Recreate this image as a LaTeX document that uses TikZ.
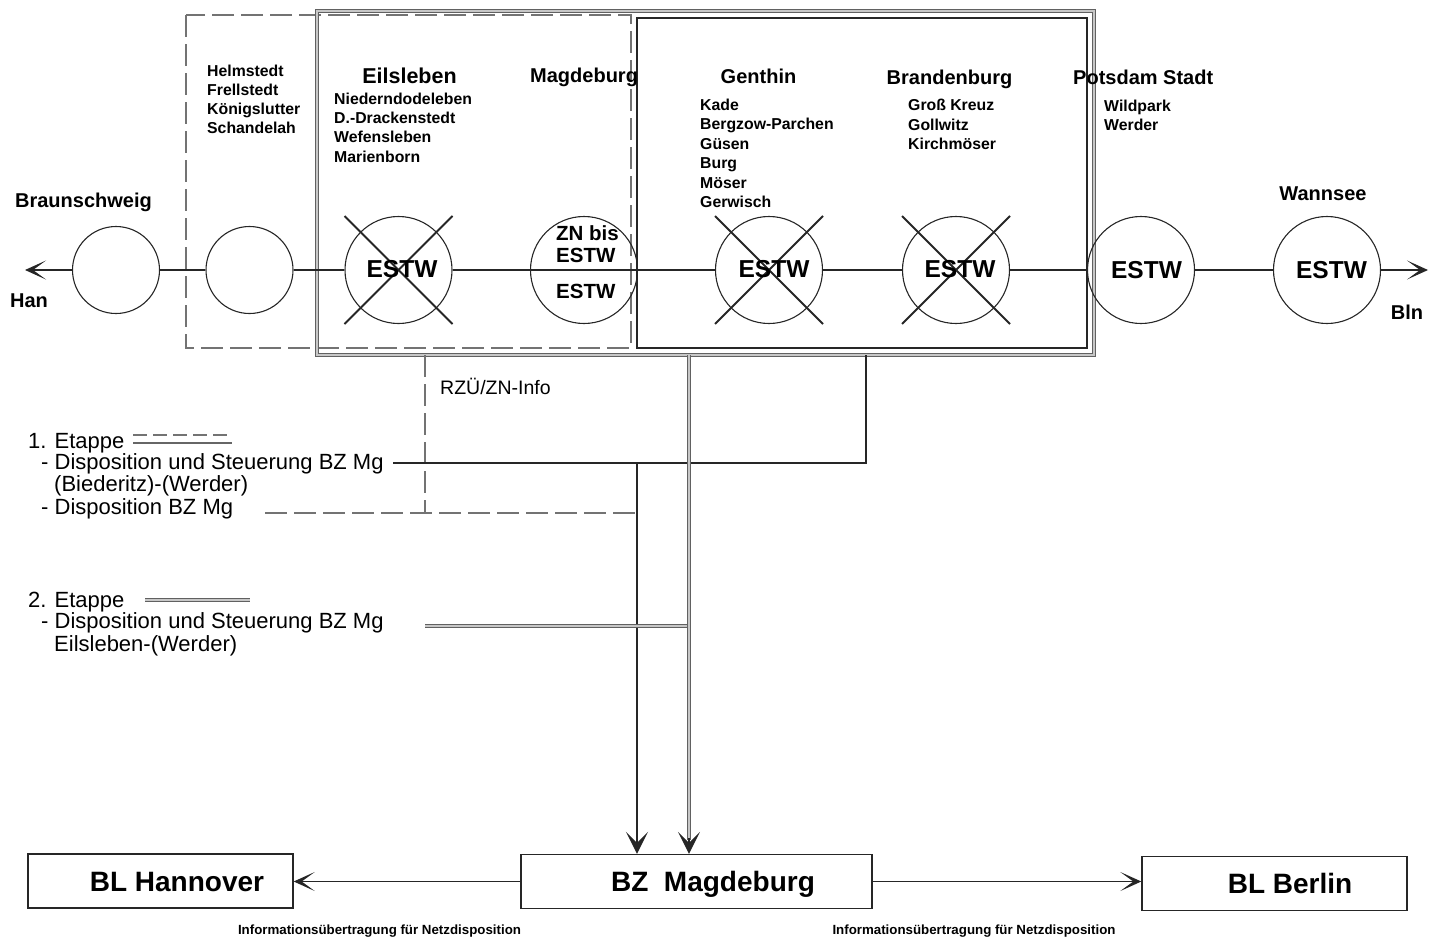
\documentclass[tikz,border=0pt]{standalone}
\usepackage{fontspec}
\setmainfont{Liberation Sans}
\usetikzlibrary{arrows.meta}
\definecolor{ink}{gray}{0.15}
\definecolor{lightcore}{gray}{0.78}
\tikzset{
  every node/.style={inner sep=0pt},
  stnbig/.style={circle, draw=ink, line width=1.1pt, minimum size=107pt},
  stnsmall/.style={circle, draw=ink, line width=1.1pt, minimum size=87pt},
  track/.style={draw=ink, line width=1.1pt},
  xmark/.style={draw=ink, line width=1.8pt},
  etA/.style={draw=black!55, line width=1.5pt, dash pattern=on 22pt off 7pt},
  etS/.style={draw=ink, line width=2pt},
  etB/.style={draw=black!62, line width=1.1pt, double=lightcore, double distance=1.8pt},
  chev/.style={-{Stealth[length=21pt,width=19pt,inset=13pt]}},
  dn/.style={-{Stealth[length=22pt,width=22pt,inset=11pt]}},
  stname/.style={font=\bfseries\fontsize{20}{24}\selectfont, text height=14.3pt, text depth=0pt},
  place/.style={font=\bfseries\fontsize{15.8}{19}\selectfont, text height=11.3pt, text depth=0pt, anchor=west},
  estw/.style={font=\bfseries\fontsize{24.5}{28}\selectfont, text height=17.5pt, text depth=0pt},
  estwm/.style={font=\bfseries\fontsize{20.5}{24}\selectfont, text height=14.7pt, text depth=0pt, anchor=west},
  leg/.style={font=\fontsize{22}{26}\selectfont, text height=15.8pt, text depth=0pt, anchor=west},
  rz/.style={font=\fontsize{19.5}{23}\selectfont, text height=14pt, text depth=0pt, anchor=west},
  blbox/.style={draw=ink, line width=1.4pt, minimum height=54pt, font=\bfseries\fontsize{28}{32}\selectfont, text height=20pt, text depth=0pt},
  info/.style={font=\bfseries\fontsize{13.3}{15}\selectfont, text height=9.5pt, text depth=0pt},
}
\begin{document}
\begin{tikzpicture}[x=1pt,y=-1pt]
\useasboundingbox (0,0) rectangle (1429,937);

% ---- region boxes
\draw[etA] (186,15) rectangle (631,348);
\draw[etS] (637,18) rectangle (1087,348);
\draw[etB] (317,11) rectangle (1094,355);

% ---- stations
\node[stnsmall] (c1) at (116,270) {};
\node[stnsmall] (c2) at (249.5,270) {};
\node[stnbig] (c3) at (398.5,270) {};
\node[stnbig] (c4) at (584,270) {};
\node[stnbig] (c5) at (769,270) {};
\node[stnbig] (c6) at (956,270) {};
\node[stnbig] (c7) at (1141,270) {};
\node[stnbig] (c8) at (1327,270) {};

\coordinate (hanend) at (25,270);
\coordinate (blnend) at (1428,270);

\draw[track,chev] (c1.west) -- (hanend);
\draw[track] (c1.east) -- (c2.west);
\draw[track] (c2.east) -- (c3.west);
\draw[track] (c3.east) -- (c4.west);
\draw[track] (c4.west) -- (c4.east);
\draw[track] (c4.east) -- (c5.west);
\draw[track] (c5.east) -- (c6.west);
\draw[track] (c6.east) -- (c7.west);
\draw[track] (c7.east) -- (c8.west);
\draw[track,chev] (c8.east) -- (blnend);

% crosses
\foreach \c in {c3,c5,c6}{
  \draw[xmark] ([shift={(-54,-54)}]\c.center) -- ([shift={(54,54)}]\c.center);
  \draw[xmark] ([shift={(54,-54)}]\c.center) -- ([shift={(-54,54)}]\c.center);
}

% ESTW labels
\node[estw] (e3) at (402,268.5) {ESTW};
\node[estw] (e5) at (774,268.5) {ESTW};
\node[estw] (e6) at (960,268.5) {ESTW};
\node[estw] (e7) at (1146.5,269.5) {ESTW};
\node[estw] (e8) at (1331.5,269.5) {ESTW};
\node[estwm] (m1) at (556,233) {ZN bis};
\node[estwm] (m2) at (556,255) {ESTW};
\node[estwm] (m3) at (556,291.5) {ESTW};

% station names
\node[stname] (braunschweig) at (83.5,200) {Braunschweig};
\node[stname] (han) at (29,300.5) {Han};
\node[stname] (bln) at (1407,312.5) {Bln};
\node[stname,font=\bfseries\fontsize{21.5}{25}\selectfont,text height=15.4pt] (eilsleben) at (409.5,76) {Eilsleben};
\node[stname,anchor=west] (magdeburg) at (530,75.5) {Magdeburg};
\node[stname] (genthin) at (758.5,76) {Genthin};
\node[stname] (brandenburg) at (949.5,77) {Brandenburg};
\node[stname,anchor=west] (potsdam) at (1073,77.5) {Potsdam Stadt};
\node[stname] (wannsee) at (1323,193) {Wannsee};

% place lists
\node[place] (p1) at (207,70.5) {Helmstedt};
\node[place] (p2) at (207,89.5) {Frellstedt};
\node[place] (p3) at (207,109) {Königslutter};
\node[place] (p4) at (207,128) {Schandelah};

\node[place] (q1) at (334,99) {Niederndodeleben};
\node[place] (q2) at (334,118) {D.-Drackenstedt};
\node[place] (q3) at (334,137) {Wefensleben};
\node[place] (q4) at (334,157) {Marienborn};

\node[place] (g1) at (700,104.5) {Kade};
\node[place] (g2) at (700,124) {Bergzow-Parchen};
\node[place] (g3) at (700,143.5) {Güsen};
\node[place] (g4) at (700,163) {Burg};
\node[place] (g5) at (700,182.5) {Möser};
\node[place] (g6) at (700,202) {Gerwisch};

\node[place] (b1) at (908,105) {Groß Kreuz};
\node[place] (b2) at (908,125) {Gollwitz};
\node[place] (b3) at (908,144) {Kirchmöser};

\node[place] (w1) at (1104,106) {Wildpark};
\node[place] (w2) at (1104,125) {Werder};

% ---- lower part: boxes
\node[blbox, minimum width=265pt] (han box) at (160.5,881) {\hspace{33pt}BL Hannover};
\node[blbox, minimum width=351pt] (bz) at (696.5,881.5) {\hspace{33pt}BZ~~Magdeburg};
\node[blbox, minimum width=265pt] (bln box) at (1274.5,883.5) {\hspace{31pt}BL Berlin};

\draw[ink, line width=1.4pt, chev] (bz.west) -- (bz.west -| han box.east);
\draw[ink, line width=1.4pt, chev] (bz.east) -- (bz.east -| bln box.west);

\node[info] (inf1) at (379.5,929.5) {Informationsübertragung für Netzdisposition};
\node[info] (inf2) at (974,929.5) {Informationsübertragung für Netzdisposition};

% ---- connection lines
\coordinate (r1) at (425,355);
\coordinate (r2) at (425,513);
\coordinate (d1) at (265,513);
\coordinate (d2) at (637,513);
\coordinate (s0) at (393,463);
\coordinate (s1) at (866,463);
\coordinate (s2) at (866,355);
\coordinate (s3) at (637,463);
\coordinate (t0) at (689,355);
\coordinate (t1) at (425,626);
\coordinate (t2) at (689,626);

\draw[etA] (r1) -- (r2);
\draw[etA] (d1) -- (d2);
\draw[etS] (s0) -- (s1) -- (s2);
\draw[ink, line width=1.8pt, dn] (s3) -- (s3 |- bz.north);
\draw[etB] (t1) -- (t2);
\draw[etB] (t0) -- ([yshift=14pt]t0 |- bz.north);
\draw[ink, line width=1.4pt, dn] ([yshift=16pt]t0 |- bz.north) -- (t0 |- bz.north);

\node[rz] (rzu) at (440,387.5) {RZÜ/ZN-Info};

% ---- legend
\node[leg] (l1) at (28,440.5) {1. Etappe};
\node[leg] (l2) at (41,462) {- Disposition und Steuerung BZ Mg};
\node[leg] (l3) at (54,484) {(Biederitz)-(Werder)};
\node[leg] (l4) at (41,507) {- Disposition BZ Mg};
\node[leg] (l5) at (28,599.5) {2. Etappe};
\node[leg] (l6) at (41,621) {- Disposition und Steuerung BZ Mg};
\node[leg] (l7) at (54,644) {Eilsleben-(Werder)};

\draw[draw=black!55, line width=1.3pt, dash pattern=on 14pt off 6pt] (133,435) -- (232,435);
\draw[draw=black!60, line width=1.2pt] (133,443) -- (232,443);
\draw[etB] (145,600) -- (250,600);
\end{tikzpicture}
\end{document}
